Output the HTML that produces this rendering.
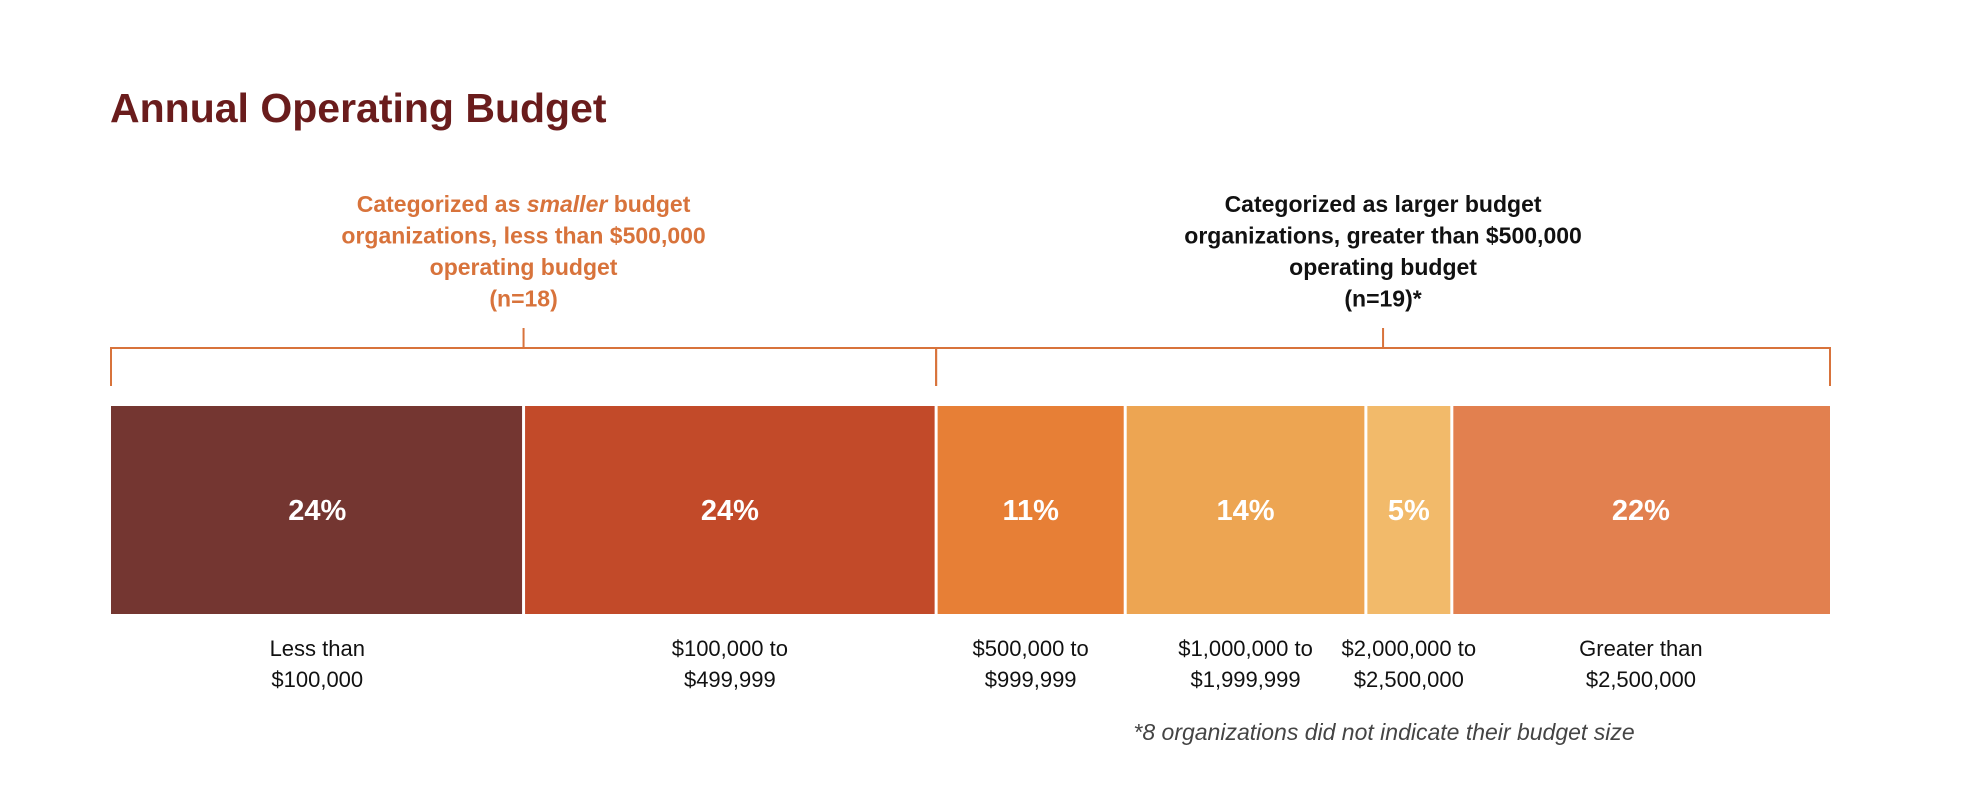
<!DOCTYPE html>
<html><head><meta charset="utf-8">
<style>
html,body{margin:0;padding:0;background:#fff;}
svg{display:block;font-family:"Liberation Sans",sans-serif;}
</style></head>
<body>
<svg id="chart" width="1978" height="786" viewBox="0 0 1978 786" xmlns="http://www.w3.org/2000/svg">
<text x="110" y="122" font-size="41" font-weight="bold" fill="#6a1c1c">Annual Operating Budget</text>
<g id="annot"></g>
<g id="bars"></g>
<g id="labels"></g>
<text x="1384" y="740" font-size="23" font-style="italic" fill="#444" text-anchor="middle">*8 organizations did not indicate their budget size</text>
</svg>
<script>
const categories = [["Less than","$100,000"],["$100,000 to","$499,999"],["$500,000 to","$999,999"],["$1,000,000 to","$1,999,999"],["$2,000,000 to","$2,500,000"],["Greater than","$2,500,000"]];
const values = [24,24,11,14,5,22];
const valueLabels = ["24%","24%","11%","14%","5%","22%"];
const colors = ["#743631","#c24a29","#e77f36","#eda552","#f2ba6a","#e2804f"];
const groupSplit = 2;
const groupTitles = [
  [["Categorized as ",["smaller"]," budget"],["organizations, less than $500,000"],["operating budget"],["(n=18)"]],
  [["Categorized as larger budget"],["organizations, greater than $500,000"],["operating budget"],["(n=19)*"]]
];
const groupColors = ["#d8733b","#111"];

const NS = "http://www.w3.org/2000/svg";
const x0 = 111, x1 = 1830, barTop = 406, barH = 208, gap = 3;
const total = values.reduce((a,b)=>a+b,0);
const xScale = v => x0 + (v/total)*(x1-x0);
function mk(tag, attrs, parent){const e=document.createElementNS(NS,tag);for(const k in attrs)e.setAttribute(k,attrs[k]);parent.appendChild(e);return e;}

const bars = document.getElementById('bars');
const labels = document.getElementById('labels');
let cum = 0; const edges=[];
values.forEach((v,i)=>{
  const xa = xScale(cum), xb = xScale(cum+v);
  edges.push([xa,xb]);
  const r = mk('rect',{x:xa+(i?gap/2:0),y:barTop,width:(xb-xa)-(i?gap/2:0)-(i<values.length-1?gap/2:0),height:barH,fill:colors[i]},bars);
  
  
  const cx=(xa+xb)/2;
  const t = mk('text',{x:cx,y:barTop+barH/2+10,'font-size':29,'font-weight':'bold',fill:'#fff','text-anchor':'middle'},bars);
  t.textContent = valueLabels[i];
  
  
  categories[i].forEach((line,j)=>{
    const l = mk('text',{x:cx,y:656+j*31,'font-size':22,fill:'#111','text-anchor':'middle'},labels);
    l.textContent=line;
    
    
  });
  cum+=v;
});

const annot = document.getElementById('annot');
const groups=[[edges[0][0],edges[groupSplit-1][1]],[edges[groupSplit][0],edges[edges.length-1][1]]];
groups.forEach((g,gi)=>{
  const [a,b]=g, c=(a+b)/2;
  const p = mk('path',{d:`M${a} 386 V348 H${b} V386 M${c} 348 V328`,fill:'none',stroke:'#d8733b','stroke-width':2},annot);
  
  
  const t = mk('text',{x:c,'font-size':23,fill:groupColors[gi],'text-anchor':'middle','font-weight':'bold'},annot);
  
  
  groupTitles[gi].forEach((line,li)=>{
    line.forEach((part,pi)=>{
      const ts = mk('tspan',{},t);
      if(pi===0){ts.setAttribute('x',c);ts.setAttribute('y',212+li*31.5);}
      if(Array.isArray(part)){ts.setAttribute('font-style','italic');ts.textContent=part[0];}
      else ts.textContent=part;
    });
  });
});
</script>
</body></html>
